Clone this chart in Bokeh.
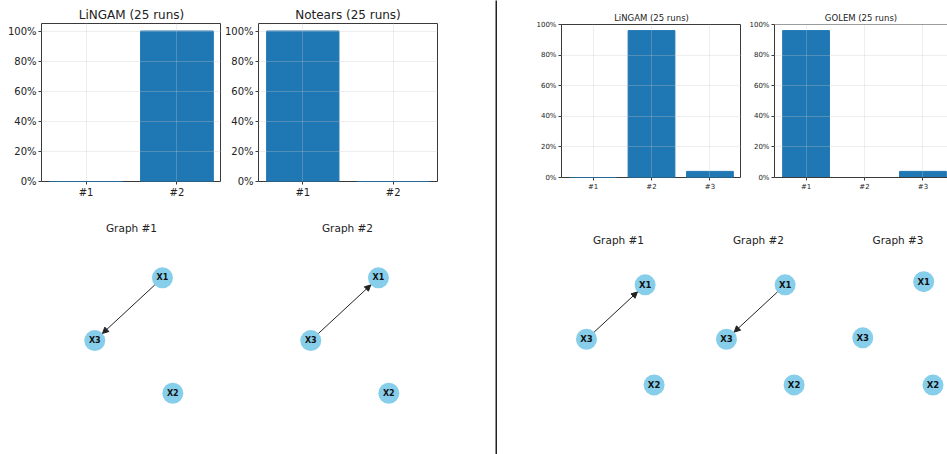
import math
from bokeh.plotting import figure
from bokeh.layouts import row, column
from bokeh.models import Range1d, FixedTicker, NumeralTickFormatter, Arrow, NormalHead, Span
from bokeh.core.properties import value
from bokeh.embed import file_html
from bokeh.resources import INLINE

# ---------------- data ----------------
N_RUNS = 25
left_methods = ["LiNGAM", "Notears"]
left_lingam_counts = [0, 25]
left_notears_counts = [25, 0]
left_tick_labels = ["#1", "#2"]

right_methods = ["LiNGAM", "GOLEM"]
right_lingam_counts = [0, 24, 1]
right_golem_counts = [24, 0, 1]
right_tick_labels = ["#1", "#2", "#3"]

pct_ticks = [0.0, 0.2, 0.4, 0.6, 0.8, 1.0]

node_names = ["X1", "X2", "X3"]
node_x = [0.344, 0.459, -0.408]
node_y = [0.686, -0.597, -0.011]

left_graph_titles = ["Graph #1", "Graph #2"]
left_graph_edges = [[("X1", "X3")], [("X3", "X1")]]
right_graph_titles = ["Graph #1", "Graph #2", "Graph #3"]
right_graph_edges = [[("X3", "X1")], [("X1", "X3")], []]

# ---------------- style ----------------
FONT = "DejaVu Sans"
BAR_COLOR = "#1f77b4"
SPINE = "#3a3a3a"
TXT = "#222222"
NODE_COLOR = "#87CEEB"
NODE_SIZE = 21


def bar_fig(method, counts, labels, width, height, bl, br, bt, bb, xr,
            title_size, tick_size, title_standoff, open_right=False):
    frac = [c / N_RUNS for c in counts]
    xs = list(range(len(labels)))
    ytop = 1.05 if len(labels) == 2 else 1.0
    p = figure(width=width, height=height, x_range=Range1d(*xr), y_range=Range1d(0, ytop),
               toolbar_location=None, output_backend="svg",
               min_border_left=bl, min_border_right=br, min_border_top=bt, min_border_bottom=bb)
    p.title.text = f"{method} ({N_RUNS} runs)"
    p.title.align = "center"
    p.title.text_font = FONT
    p.title.text_font_style = "normal"
    p.title.text_font_size = title_size
    p.title.text_color = TXT
    p.title.standoff = title_standoff
    p.vbar(x=xs, top=frac, width=0.8, color=BAR_COLOR)
    p.xaxis.ticker = FixedTicker(ticks=xs)
    p.xaxis.major_label_overrides = {i: lab for i, lab in zip(xs, labels)}
    p.yaxis.ticker = FixedTicker(ticks=pct_ticks)
    p.yaxis.formatter = NumeralTickFormatter(format="0%")
    for ax in (p.xaxis, p.yaxis):
        ax.major_tick_in = 0
        ax.major_tick_out = 3
        ax.major_tick_line_color = SPINE
        ax.minor_tick_line_color = None
        ax.major_label_text_font = FONT
        ax.major_label_text_font_size = tick_size
        ax.major_label_text_color = TXT
        ax.major_label_standoff = 2
        ax.axis_line_color = SPINE if open_right else None
    p.grid.grid_line_color = "#c8c8c8"
    p.grid.grid_line_alpha = 0.3
    p.grid.level = "annotation"
    if open_right:
        p.outline_line_color = None
        p.add_layout(Span(location=ytop, dimension="width", line_color=SPINE, line_width=1))
    else:
        p.outline_line_color = SPINE
        p.outline_line_width = 1
    return p


def graph_fig(title, edges, width, height, bl, br, bt, xr, yr, ppu, label_size,
              title_standoff, align="center", offset=0):
    p = figure(width=width, height=height, x_range=Range1d(*xr), y_range=Range1d(*yr),
               toolbar_location=None, output_backend="svg",
               x_axis_location=None, y_axis_location=None,
               min_border_left=bl, min_border_right=br, min_border_top=bt, min_border_bottom=0)
    p.outline_line_color = None
    p.grid.visible = False
    p.title.text = title
    p.title.align = align
    p.title.offset = offset
    p.title.text_font = FONT
    p.title.text_font_style = "normal"
    p.title.text_font_size = "10.5px"
    p.title.text_color = TXT
    p.title.standoff = title_standoff
    idx = {n: i for i, n in enumerate(node_names)}
    r = (NODE_SIZE / 2) / ppu
    for s, t in edges:
        x0, y0 = node_x[idx[s]], node_y[idx[s]]
        x1, y1 = node_x[idx[t]], node_y[idx[t]]
        d = math.hypot(x1 - x0, y1 - y0)
        ux, uy = (x1 - x0) / d, (y1 - y0) / d
        p.add_layout(Arrow(end=NormalHead(size=6, fill_color="#222222", line_color="#222222", line_width=1),
                           x_start=x0 + ux * r, y_start=y0 + uy * r,
                           x_end=x1 - ux * r, y_end=y1 - uy * r,
                           line_color="#222222", line_width=1))
    p.scatter(node_x, node_y, size=NODE_SIZE, color=NODE_COLOR, line_color=None)
    p.text(node_x, node_y, text=node_names, text_align="center", text_baseline="middle",
           text_font=value(FONT), text_font_style="bold", text_font_size=label_size,
           text_color="#111111")
    return p


# ---------------- left half ----------------
b1 = bar_fig(left_methods[0], left_lingam_counts, left_tick_labels, 221, 203, 41, 0, 23, 22,
             (-0.49, 1.49), "12px", "10px", 3)
b2 = bar_fig(left_methods[1], left_notears_counts, left_tick_labels, 274, 203, 36, 58, 23, 22,
             (-0.49, 1.49), "12px", "10px", 3)
lg1 = graph_fig(left_graph_titles[0], left_graph_edges[0], 221, 251, 41, 0, 34,
                (-1.0, 1.0), (-1.277, 1.134), 90, "8px", 7)
lg2 = graph_fig(left_graph_titles[1], left_graph_edges[1], 274, 251, 36, 58, 34,
                (-1.0, 1.0), (-1.277, 1.134), 90, "8px", 7)
left = column(row(b1, b2, spacing=0), row(lg1, lg2, spacing=0), spacing=0)

# ---------------- divider ----------------
div = figure(width=2, height=454, toolbar_location=None, output_backend="svg",
             x_axis_location=None, y_axis_location=None, min_border=0,
             background_fill_color="#222222", border_fill_color="#222222", outline_line_color=None)
div.grid.visible = False

# ---------------- right half ----------------
b3 = bar_fig(right_methods[0], right_lingam_counts, right_tick_labels, 244, 203, 64, 0, 24, 26,
             (-0.54, 2.54), "8.5px", "7px", 4)
b4 = bar_fig(right_methods[1], right_golem_counts, right_tick_labels, 206, 203, 33, 0, 24, 26,
             (-0.54, 2.42), "8.5px", "7px", 4, open_right=True)
rg1 = graph_fig(right_graph_titles[0], right_graph_edges[0], 191, 251, 51, 0, 46,
                (-0.895, 0.900), (-1.489, 1.139), 78, "8.5px", 7)
rg2 = graph_fig(right_graph_titles[1], right_graph_edges[1], 140, 251, 0, 0, 46,
                (-0.895, 0.900), (-1.489, 1.139), 78, "8.5px", 7)
rg3 = graph_fig(right_graph_titles[2], right_graph_edges[2], 119, 251, 0, 0, 45,
                (-0.831, 0.638), (-1.458, 1.085), 81, "8.5px", 8, align="left", offset=44)
right = column(row(b3, b4, spacing=0), row(rg1, rg2, rg3, spacing=0), spacing=0)

root = row(left, div, right, spacing=0)
open("out.html", "w").write(file_html(root, INLINE))
